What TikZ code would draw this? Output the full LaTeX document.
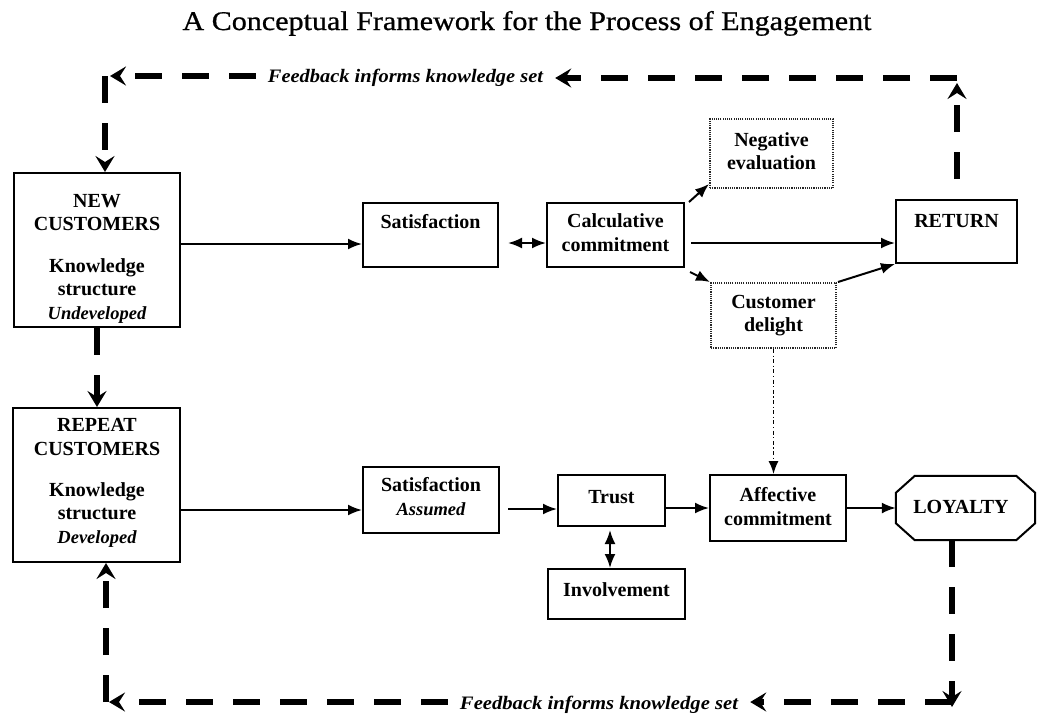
\documentclass[tikz,border=0pt]{standalone}
\usepackage{fontspec}
\setmainfont{Liberation Serif}
\newfontfamily\titlefont[FakeBold=0.7]{Liberation Serif}
\usetikzlibrary{arrows.meta,calc}
\begin{document}
\begin{tikzpicture}[x=1pt,y=-1pt,
  box/.style={draw, line width=2pt, inner sep=0pt},
  dotbox/.style={draw=black!85, line width=2pt, dash pattern=on 1.1pt off 1.1pt, inner sep=0pt},
  lbl/.style={font=\fontsize{20}{23.5}\selectfont\bfseries, align=center, anchor=base, inner sep=0pt},
  arr/.style={line width=2pt, -{Latex[length=14pt,width=11pt]}},
  dbl/.style={line width=2pt, {Latex[length=14pt,width=11pt]}-{Latex[length=14pt,width=11pt]}},
  fb/.style={line width=6.5pt, dash pattern=on 27pt off 20pt, -{Stealth[length=16pt,width=19pt,inset=6pt]}},
  fbtext/.style={font=\fontsize{19}{22}\selectfont\bfseries\itshape, inner xsep=12pt, inner ysep=0pt}
]
\newcommand{\itl}[1]{{\fontsize{18.5}{23.5}\selectfont\itshape #1}}
\useasboundingbox[fill=white] (0,0) rectangle (1038,716);

% title
\node[anchor=base, inner sep=0pt] (title) at (527,30)
  {\resizebox{689pt}{\height}{\titlefont\fontsize{27}{30}\selectfont A Conceptual Framework for the Process of Engagement}};

% boxes
\node[box, minimum width=166, minimum height=154] (new) at (97,250) {};
\node[box, minimum width=167, minimum height=154] (rep) at (96.5,485) {};
\node[box, minimum width=135, minimum height=64] (sat1) at (430.5,235) {};
\node[box, minimum width=137, minimum height=64] (calc) at (615.5,235) {};
\node[dotbox, minimum width=123, minimum height=69] (neg) at (771.5,153.5) {};
\node[dotbox, minimum width=125, minimum height=65] (del) at (773.5,315.5) {};
\node[box, minimum width=121, minimum height=63] (ret) at (956.5,231.5) {};
\node[box, minimum width=136, minimum height=66] (sat2) at (431,500) {};
\node[box, minimum width=107, minimum height=51] (trust) at (611.5,500.5) {};
\node[box, minimum width=137, minimum height=50] (inv) at (616.5,594) {};
\node[box, minimum width=136, minimum height=66] (aff) at (778,508) {};
\node[minimum width=139, minimum height=64, inner sep=0pt] (loy) at (965.5,508) {};
\draw[line width=2pt] ($(loy.north west)+(19,0)$) -- ($(loy.north east)+(-19,0)$)
  -- ($(loy.north east)+(0,17)$) -- ($(loy.south east)+(0,-17)$)
  -- ($(loy.south east)+(-19,0)$) -- ($(loy.south west)+(19,0)$)
  -- ($(loy.south west)+(0,-17)$) -- ($(loy.north west)+(0,17)$) -- cycle;

% box texts (placed by the baseline of their last line)
\node[lbl] (newt) at (97,319) {NEW\\CUSTOMERS\\[18pt]Knowledge\\structure\\\itl{Undeveloped}};
\node[lbl] (rept) at (97,543) {REPEAT\\CUSTOMERS\\[17.5pt]Knowledge\\structure\\\itl{Developed}};
\node[lbl] (sat1t) at (430.5,228) {Satisfaction};
\node[lbl] (calct) at (615.5,251) {Calculative\\commitment};
\node[lbl] (negt) at (771.5,169.5) {Negative\\evaluation};
\node[lbl] (delt) at (773.5,331.5) {Customer\\delight};
\node[lbl] (rett) at (956.5,227) {RETURN};
\node[lbl] (sat2t) at (431,515) {Satisfaction\\\itl{Assumed}};
\node[lbl] (trustt) at (611.5,503) {Trust};
\node[lbl] (invt) at (616.5,596) {Involvement};
\node[lbl] (afft) at (778,525) {Affective\\commitment};
\node[lbl] (loyt) at (961,513) {LOYALTY};

% solid connectors
\coordinate (a1) at ([yshift=6pt]new.east);
\draw[arr] (a1) -- (a1 -| sat1.west);
\coordinate (a2) at ([xshift=9pt,yshift=-8pt]sat1.east);
\draw[dbl] (a2) -- (a2 -| calc.west);
\coordinate (a3) at ([xshift=6pt,yshift=-8pt]calc.east);
\draw[arr] (a3) -- (a3 -| ret.west);
\draw[arr] ([xshift=4pt]calc.north east) -- ([yshift=5pt]neg.south west);
\draw[arr] ([xshift=5pt,yshift=-4pt]calc.south east) -- (del.north west);
\draw[arr] ([xshift=1pt]del.north east) -- (ret.south west);
\draw[line width=1.5pt, dash pattern=on 4pt off 2.5pt on 1.2pt off 2.5pt, -{Latex[length=13pt,width=10pt]}]
  (del.south) -- (del.south |- aff.north);
\coordinate (a4) at ([yshift=-25pt]rep.east);
\draw[arr] (a4) -- (a4 -| sat2.west);
\coordinate (a5) at ([xshift=8pt,yshift=-9pt]sat2.east);
\draw[arr] (a5) -- (a5 -| trust.west);
\coordinate (a6) at ([xshift=-1.5pt,yshift=-3pt]trust.south);
\draw[dbl] (a6) -- (a6 |- inv.north);
\coordinate (a7) at ([yshift=-7.5pt]trust.east);
\draw[arr] (a7) -- (a7 -| aff.west);
\draw[arr] (aff.east) -- (loy.west);

% feedback loops
\coordinate (tr) at (957,78);
\coordinate (tl) at (105,76);
\coordinate (br) at (952,702);
\coordinate (bl) at (106,702);
\node[fbtext] (fbt) at (405.5,78) {\resizebox{275pt}{\height}{Feedback informs knowledge set}};
\node[fbtext] (fbb) at (599,705) {\resizebox{278pt}{\height}{Feedback informs knowledge set}};

\draw[fb, dash phase=27pt] (tr |- ret.north) -- ([yshift=-5pt]tr);
\draw[fb] (tr) -- (tr -| fbt.east);
\draw[fb] (fbt.west |- tl) -- ([xshift=5pt]tl);
\draw[fb] (tl) -- (tl |- new.north);
\draw[fb] (new.south) -- (new.south |- rep.north);
\draw[fb] (br |- loy.south) -- ([yshift=-5pt]br);
\draw[fb] (br) -- (br -| fbb.east);
\draw[fb] (fbb.west |- bl) -- ([xshift=3pt]bl);
\draw[fb] (bl) -- (bl |- rep.south);
\end{tikzpicture}
\end{document}
